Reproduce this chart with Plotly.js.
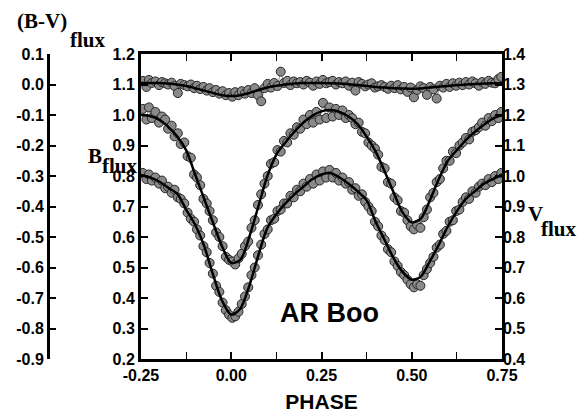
<!DOCTYPE html>
<html><head><meta charset="utf-8">
<script src="https://cdn.plot.ly/plotly-3.0.1.min.js"></script>
<style>html,body{margin:0;padding:0;background:#fff}#chart{width:577px;height:414px}</style>
</head><body><div id="chart"></div>
<script>
// ---- data ----
const obsPhase = [-0.245,-0.235,-0.228,-0.22,-0.21,-0.2,-0.192,-0.183,-0.175,-0.165,-0.157,-0.148,-0.14,-0.13,-0.121,-0.112,-0.103,-0.095,-0.086,-0.077,-0.068,-0.06,-0.051,-0.042,-0.033,-0.024,-0.015,-0.006,0.003,0.011,0.02,0.029,0.038,0.047,0.056,0.065,0.074,0.083,0.092,0.101,0.11,0.119,0.128,0.137,0.146,0.155,0.164,0.173,0.182,0.191,0.2,0.209,0.218,0.227,0.236,0.245,0.254,0.263,0.272,0.281,0.29,0.299,0.308,0.317,0.326,0.335,0.344,0.353,0.362,0.371,0.38,0.389,0.398,0.407,0.416,0.425,0.434,0.443,0.452,0.461,0.47,0.479,0.488,0.497,0.506,0.515,0.524,0.533,0.542,0.551,0.56,0.569,0.578,0.587,0.596,0.605,0.614,0.623,0.632,0.641,0.65,0.659,0.668,0.677,0.686,0.695,0.704,0.713,0.722,0.731,0.74,0.748];
const obsB = [1.02,0.985,1.025,0.99,1.01,0.975,0.995,0.985,0.955,0.965,0.93,0.94,0.905,0.91,0.865,0.86,0.805,0.795,0.77,0.725,0.71,0.685,0.655,0.615,0.60,0.57,0.535,0.525,0.52,0.51,0.53,0.545,0.57,0.585,0.63,0.655,0.705,0.74,0.775,0.80,0.84,0.845,0.885,0.88,0.915,0.91,0.94,0.935,0.96,0.955,0.985,0.97,1.0,0.975,1.01,0.985,1.04,0.99,1.025,0.995,1.02,1.0,1.015,0.99,1.0,0.99,0.97,0.975,0.945,0.94,0.91,0.9,0.89,0.87,0.83,0.825,0.78,0.775,0.73,0.72,0.685,0.68,0.655,0.635,0.625,0.64,0.63,0.665,0.69,0.73,0.745,0.78,0.79,0.825,0.85,0.85,0.88,0.875,0.9,0.91,0.925,0.92,0.945,0.95,0.96,0.975,0.965,0.99,0.98,1.0,0.99,1.01];
const obsV = [1.01,0.99,1.005,0.985,0.995,0.975,0.985,0.96,0.965,0.945,0.955,0.93,0.925,0.91,0.88,0.86,0.85,0.825,0.805,0.77,0.75,0.715,0.68,0.64,0.62,0.585,0.56,0.545,0.535,0.54,0.555,0.58,0.605,0.635,0.675,0.70,0.74,0.775,0.81,0.825,0.855,0.86,0.885,0.89,0.91,0.91,0.935,0.93,0.955,0.95,0.975,0.965,0.99,0.975,1.005,0.985,1.015,0.995,1.02,0.995,1.01,0.985,0.995,0.975,0.98,0.955,0.96,0.935,0.94,0.915,0.9,0.885,0.85,0.835,0.805,0.79,0.76,0.75,0.72,0.705,0.685,0.675,0.66,0.645,0.635,0.645,0.64,0.675,0.695,0.715,0.735,0.765,0.775,0.81,0.82,0.85,0.855,0.885,0.89,0.915,0.93,0.925,0.95,0.945,0.965,0.975,0.97,0.99,0.98,1.0,0.99,1.01];
const obsBV = [0.012,-0.008,0.015,0.005,0.01,-0.002,0.008,0.004,0.0,0.006,-0.005,-0.028,0.002,-0.002,-0.006,0.0,-0.012,-0.004,-0.015,-0.008,-0.02,-0.012,-0.025,-0.018,-0.03,-0.022,-0.035,-0.028,-0.04,-0.025,-0.035,-0.022,-0.03,-0.018,-0.028,-0.012,-0.035,-0.055,-0.012,0.002,-0.01,0.005,-0.005,0.042,0.005,0.012,-0.002,0.01,0.004,0.008,0.0,0.012,0.006,-0.004,0.01,0.002,0.015,0.004,0.008,0.012,0.0,0.008,0.004,0.01,-0.004,0.006,-0.02,0.008,0.002,-0.006,0.0,0.004,-0.01,-0.006,-0.002,-0.008,-0.014,-0.004,-0.012,-0.002,-0.016,-0.008,-0.024,-0.01,-0.042,-0.018,-0.006,-0.012,-0.034,-0.008,-0.016,-0.046,-0.004,-0.01,0.002,-0.008,0.004,-0.004,0.006,-0.002,0.008,0.0,0.01,0.004,-0.004,0.008,0.002,0.012,0.006,0.004,0.018,0.025];

const fitPhase = [-0.25,-0.225,-0.2,-0.175,-0.15,-0.125,-0.1,-0.075,-0.05,-0.025,0.0,0.025,0.05,0.075,0.1,0.125,0.15,0.175,0.2,0.225,0.25,0.275,0.3,0.325,0.35,0.375,0.4,0.425,0.45,0.475,0.5,0.525,0.55,0.575,0.6,0.625,0.65,0.675,0.7,0.725,0.75];
const fitB = [1.000,0.997,0.985,0.962,0.930,0.885,0.805,0.725,0.645,0.568,0.515,0.525,0.600,0.700,0.800,0.870,0.910,0.945,0.975,0.998,1.012,1.016,1.010,0.995,0.970,0.929,0.880,0.815,0.745,0.680,0.648,0.660,0.720,0.790,0.850,0.885,0.918,0.945,0.968,0.988,1.000];
const fitV = [1.003,0.995,0.982,0.962,0.942,0.890,0.840,0.770,0.675,0.590,0.545,0.565,0.640,0.740,0.830,0.875,0.910,0.940,0.965,0.990,1.005,1.010,0.995,0.975,0.950,0.920,0.850,0.790,0.730,0.685,0.660,0.670,0.720,0.775,0.835,0.885,0.925,0.950,0.975,0.990,1.005];
const fitBV = [0.005,0.005,0.005,0.003,0.0,-0.005,-0.012,-0.02,-0.028,-0.035,-0.038,-0.035,-0.028,-0.018,-0.01,-0.004,0.0,0.003,0.005,0.005,0.005,0.004,0.003,0.001,-0.002,-0.005,-0.008,-0.010,-0.012,-0.013,-0.014,-0.013,-0.01,-0.007,-0.005,-0.002,0.0,0.002,0.003,0.004,0.004];

const xTicks = [-0.25,0.0,0.25,0.5,0.75];
const xTickText = ['-0.25','0.00','0.25','0.50','0.75'];
const bTicks = [0.2,0.3,0.4,0.5,0.6,0.7,0.8,0.9,1.0,1.1,1.2];
const bTickText = ['0.2','0.3','0.4','0.5','0.6','0.7','0.8','0.9','1.0','1.1','1.2'];
const vTicks = [0.4,0.5,0.6,0.7,0.8,0.9,1.0,1.1,1.2,1.3,1.4];
const vTickText = ['0.4','0.5','0.6','0.7','0.8','0.9','1.0','1.1','1.2','1.3','1.4'];
const bvTicks = [-0.9,-0.8,-0.7,-0.6,-0.5,-0.4,-0.3,-0.2,-0.1,0.0,0.1];
const bvTickText = ['-0.9','-0.8','-0.7','-0.6','-0.5','-0.4','-0.3','-0.2','-0.1','0.0','0.1'];

// ---- styles ----
const SANS = 'Liberation Sans, Arial, Helvetica, sans-serif';
const SERIF = 'Liberation Serif, Times New Roman, serif';
const mk = {symbol:'circle', size:9, color:'#8a8a8a', line:{color:'#262626', width:1}};
const thin = {color:'#555', width:0.6};
const fitLine = {color:'#000', width:2.5, shape:'spline', smoothing:0.8};
const bold = a => a.map(s => '<b>' + s + '</b>');

const traces = [
  {x:obsPhase, y:obsBV, yaxis:'y3', mode:'lines+markers', marker:mk, line:thin, name:'(B-V) obs'},
  {x:obsPhase, y:obsB, yaxis:'y', mode:'lines+markers', marker:mk, line:thin, name:'B obs'},
  {x:obsPhase, y:obsV, yaxis:'y2', mode:'lines+markers', marker:mk, line:thin, name:'V obs'},
  {x:fitPhase, y:fitBV, yaxis:'y3', mode:'lines', line:fitLine, name:'(B-V) fit'},
  {x:fitPhase, y:fitB, yaxis:'y', mode:'lines', line:fitLine, name:'B fit'},
  {x:fitPhase, y:fitV, yaxis:'y2', mode:'lines', line:fitLine, name:'V fit'}
];

const tf = {family:SANS, size:16, color:'#000'};
const W = 454, L = 48, T = 54, H = 305;
const px = v => (v - L) / W;
const py = v => (T + H - v) / H;
const ann = (x, y, t, fam, size) => ({xref:'paper', yref:'paper', x:px(x), y:py(y), xanchor:'center', yanchor:'middle',
  text:'<b>' + t + '</b>', showarrow:false, font:{family:fam, size:size, color:'#000'}});

const layout = {
  width:577, height:414,
  margin:{l:L, r:75, t:T, b:55, pad:0},
  paper_bgcolor:'#fff', plot_bgcolor:'#fff',
  showlegend:false,
  xaxis:{
    domain:[(141-L)/W, 1], range:[-0.25,0.75],
    tickvals:xTicks, ticktext:bold(xTickText), tickfont:tf,
    ticks:'inside', ticklen:7, tickwidth:2, tickcolor:'#000',
    minor:{dtick:0.125, tick0:-0.25, ticks:'inside', ticklen:4, tickwidth:1, tickcolor:'#000'},
    showline:true, linewidth:3, linecolor:'#000', mirror:'allticks',
    showgrid:false, zeroline:false,
    title:{text:'<b>PHASE</b>', font:{family:SANS, size:21, color:'#000'}, standoff:12}
  },
  yaxis:{
    range:[0.2,1.2], tickvals:bTicks, ticktext:bold(bTickText), tickfont:tf,
    ticks:'inside', ticklen:7, tickwidth:2, tickcolor:'#000',
    showline:true, linewidth:3, linecolor:'#000', mirror:true,
    showgrid:false, zeroline:false
  },
  yaxis2:{
    overlaying:'y', side:'right', anchor:'x',
    range:[0.4,1.4], tickvals:vTicks, ticktext:bold(vTickText), tickfont:tf,
    ticks:'inside', ticklen:7, tickwidth:2, tickcolor:'#000',
    showline:false, showgrid:false, zeroline:false
  },
  yaxis3:{
    overlaying:'y', side:'left', anchor:'free', position:0,
    range:[-0.9,0.1], tickvals:bvTicks, ticktext:bold(bvTickText), tickfont:tf,
    ticks:'inside', ticklen:6, tickwidth:2, tickcolor:'#000',
    showline:true, linewidth:3, linecolor:'#000',
    showgrid:false, zeroline:false
  },
  annotations:[
    ann(42, 21, '(B-V)', SERIF, 21),
    ann(88, 40, 'flux', SERIF, 21),
    ann(95, 156, 'B', SERIF, 21),
    ann(120, 166, 'flux', SERIF, 21),
    ann(535, 214, 'V', SERIF, 21),
    ann(559, 229, 'flux', SERIF, 21),
    ann(329, 313, 'AR Boo', SANS, 27)
  ]
};

Plotly.newPlot('chart', traces, layout, {displayModeBar:false, staticPlot:true});
</script></body></html>
